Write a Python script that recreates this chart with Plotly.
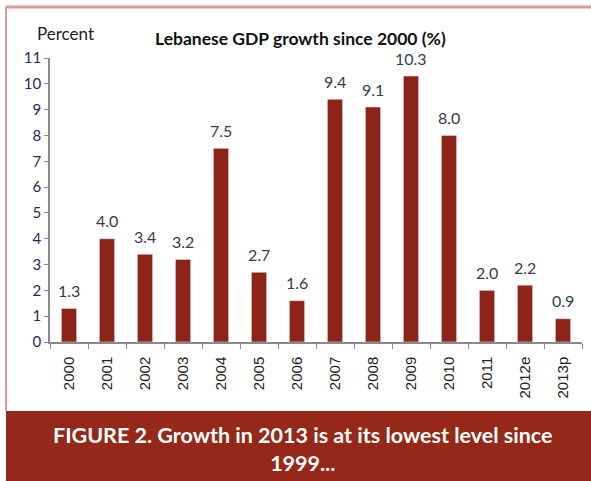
import plotly.graph_objects as go

years = ["2000", "2001", "2002", "2003", "2004", "2005", "2006", "2007",
         "2008", "2009", "2010", "2011", "2012e", "2013p"]
growth = [1.3, 4.0, 3.4, 3.2, 7.5, 2.7, 1.6, 9.4, 9.1, 10.3, 8.0, 2.0, 2.2, 0.9]
y_ticks = list(range(0, 12))

BAR = "#8e2418"
BANNER = "#952818"

fig = go.Figure(go.Bar(
    x=years, y=growth, marker_color=BAR,
    cliponaxis=False,
))

def px_x(px):
    return (px - 50) / 532

def px_y(py):
    return (342 - py) / 284

shapes = [
    dict(type="rect", xref="paper", yref="paper", x0=px_x(6), x1=px_x(600),
         y0=px_y(490), y1=px_y(411), fillcolor=BANNER, line_width=0, layer="below"),
    dict(type="line", xref="paper", yref="paper", x0=px_x(6), x1=px_x(600),
         y0=px_y(7), y1=px_y(7), line=dict(color="#dc9a9a", width=3)),
    dict(type="line", xref="paper", yref="paper", x0=px_x(6), x1=px_x(6),
         y0=px_y(7), y1=px_y(411), line=dict(color="#dc9a9a", width=2)),
]

# value labels: category axes take the category index for annotation x
annotations = [
    dict(text=f"{v:.1f}", x=i, y=v, xref="x", yref="y", showarrow=False,
         yanchor="middle", yshift=18,
         font=dict(family="Lato", size=16, color="#363c48"))
    for i, v in enumerate(growth)
]

annotations += [
    dict(text="Percent", xref="paper", yref="paper", x=px_x(65), y=px_y(33),
         showarrow=False, font=dict(family="Lato", size=17, color="#222"),
         xanchor="center", yanchor="middle"),
    dict(text="<b>Lebanese GDP growth since 2000 (%)</b>", xref="paper", yref="paper",
         x=px_x(300), y=px_y(39), showarrow=False,
         font=dict(family="Lato", size=17.5, color="#111"), xanchor="center", yanchor="middle"),
    dict(text="<b>FIGURE 2. Growth in 2013 is at its lowest level since<br>1999...</b>",
         xref="paper", yref="paper", x=px_x(302), y=px_y(449), showarrow=False,
         font=dict(family="Lato", size=21.5, color="white"), xanchor="center", yanchor="middle",
         align="center"),
]

fig.update_layout(
    width=591, height=481,
    margin=dict(l=50, r=9, t=58, b=139),
    paper_bgcolor="white", plot_bgcolor="white",
    bargap=0.6, showlegend=False,
    shapes=shapes, annotations=annotations,
    xaxis=dict(type="category", categoryorder="array", categoryarray=years,
               range=[-0.5, len(years) - 0.5],
               showline=True, linecolor="#8a8a8a", linewidth=1.5,
               ticks="outside", tickson="boundaries", ticklen=5, tickcolor="#8a8a8a",
               tickangle=-90, ticklabelstandoff=7,
               tickfont=dict(family="Liberation Sans", size=15, color="#222"),
               showgrid=False),
    yaxis=dict(range=[0, 11], tickvals=y_ticks, showline=True, linecolor="#8a8a8a",
               linewidth=1.5, ticks="outside", ticklen=4, tickcolor="#8a8a8a",
               tickfont=dict(family="Lato", size=15, color="#1f2a5a"),
               showgrid=False, zeroline=False),
)

fig.write_html("out.html")
